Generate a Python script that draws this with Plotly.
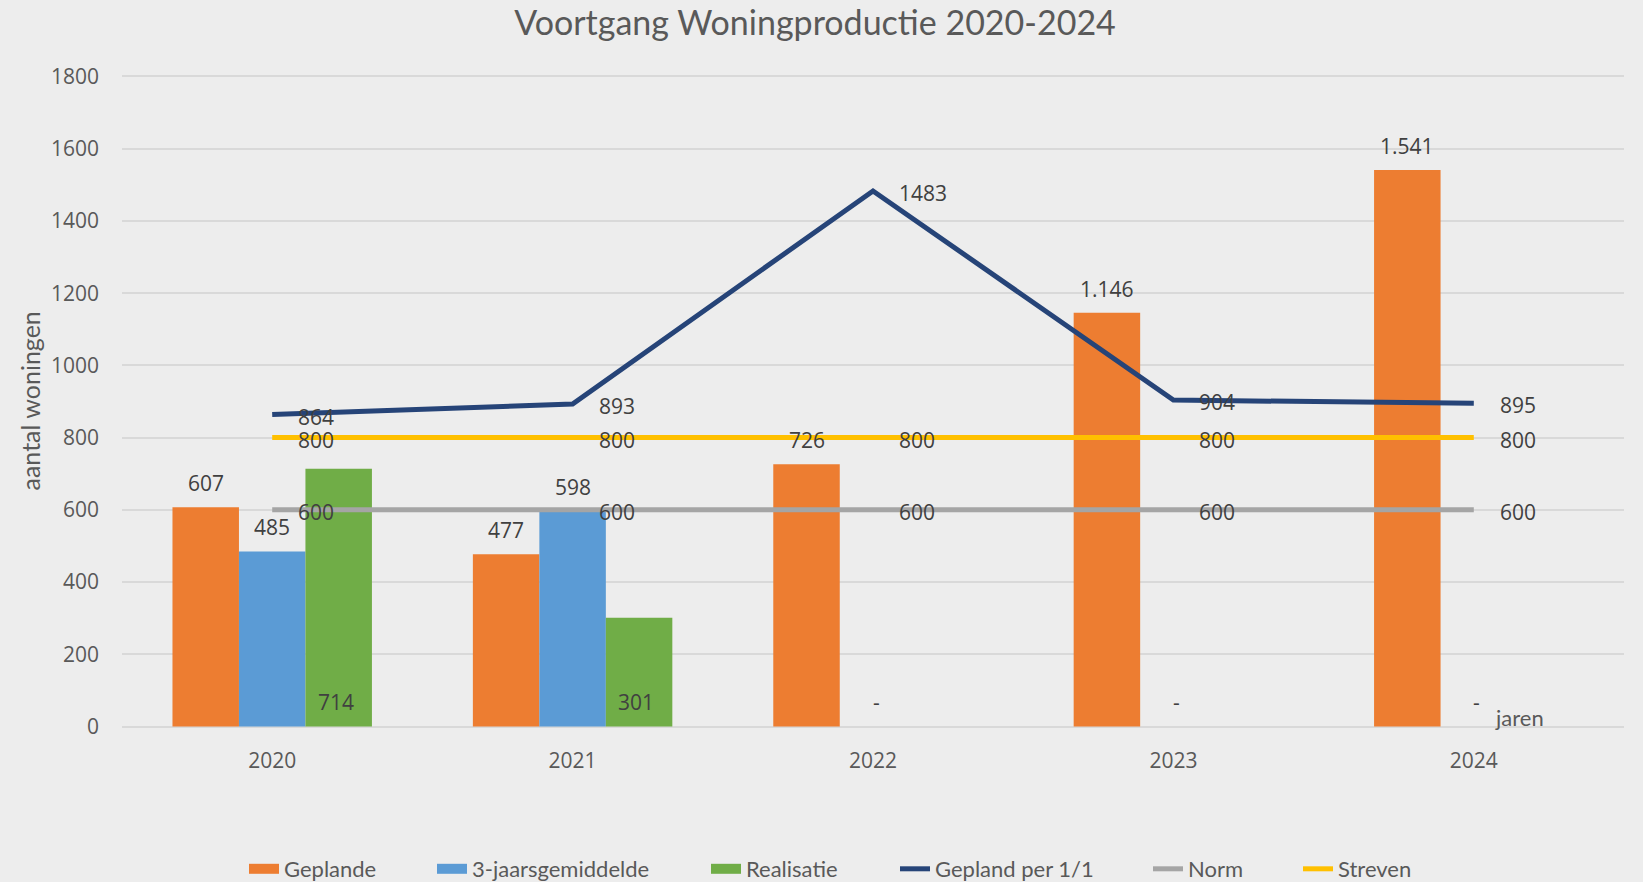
import plotly.graph_objects as go

# ---- data ----
years = ["2020", "2021", "2022", "2023", "2024"]
geplande = [607, 477, 726, 1146, 1541]
gemiddelde_3jaars = [485, 598, None, None, None]
realisatie = [714, 301, None, None, None]
gepland_per_1_1 = [864, 893, 1483, 904, 895]
norm = [600, 600, 600, 600, 600]
streven = [800, 800, 800, 800, 800]
y_ticks = [0, 200, 400, 600, 800, 1000, 1200, 1400, 1600, 1800]

# ---- styles ----
C_ORANGE = "#ED7D31"
C_BLUE = "#5B9BD5"
C_GREEN = "#70AD47"
C_NAVY = "#264478"
C_GRAY = "#A5A5A5"
C_YELLOW = "#FFC000"
BG = "#EDEDED"
TXT = "#595959"
LBL = "#404040"
NUM_FONT = "Open Sans"
TXT_FONT = "Lato"

W, H = 1643, 882
M_L, M_R, M_T, M_B = 122, 19, 75, 154
PW = W - M_L - M_R
PH = H - M_T - M_B


def fmt_nl(v):
    return f"{v:,}".replace(",", ".")


fig = go.Figure()

bar_series = [
    ("Geplande", geplande, C_ORANGE),
    ("3-jaarsgemiddelde", gemiddelde_3jaars, C_BLUE),
    ("Realisatie", realisatie, C_GREEN),
]
line_series = [
    ("Gepland per 1/1", gepland_per_1_1, C_NAVY),
    ("Norm", norm, C_GRAY),
    ("Streven", streven, C_YELLOW),
]
legend_ids = ["legend", "legend2", "legend3", "legend4", "legend5", "legend6"]
# horizontal position (px) where each legend entry's text starts
legend_text_px = [284, 472, 746, 935, 1188, 1338]

for name, vals, col in bar_series:
    fig.add_trace(go.Bar(x=years, y=vals, name=name, marker_color=col,
                         marker_line_width=0, showlegend=False, legendgroup=name))
# legend swatches for bars (wide rectangles like the original)
for k, (name, vals, col) in enumerate(bar_series):
    fig.add_trace(go.Scatter(x=[None], y=[None], mode="lines", name=name,
                             line=dict(color=col, width=14), legendgroup=name,
                             legend=legend_ids[k]))
for k, (name, vals, col) in enumerate(line_series):
    fig.add_trace(go.Scatter(x=years, y=vals, name=name, mode="lines",
                             line=dict(color=col, width=5), legendgroup=name,
                             legend=legend_ids[k + 3]))

# ---- data labels ----
ann = []
lab_font = dict(family=NUM_FONT, size=21, color=LBL)
bar_off = 66.5
for i, v in enumerate(geplande):
    ann.append(dict(x=i, y=v, xref="x", yref="y", text=fmt_nl(v), showarrow=False,
                    xshift=-bar_off, yshift=24, font=lab_font, xanchor="center", yanchor="middle"))
for i, v in enumerate(gemiddelde_3jaars):
    if v is not None:
        ann.append(dict(x=i, y=v, xref="x", yref="y", text=fmt_nl(v), showarrow=False,
                        xshift=0, yshift=24, font=lab_font, xanchor="center", yanchor="middle"))
for i, v in enumerate(realisatie):
    if v is not None:
        ann.append(dict(x=i, y=0, xref="x", yref="y", text=fmt_nl(v), showarrow=False,
                        xshift=bar_off - 3, yshift=25, font=lab_font, xanchor="center",
                        yanchor="middle"))
    else:
        ann.append(dict(x=i, y=0, xref="x", yref="y", text="-", showarrow=False, xshift=3,
                        yshift=25, font=lab_font, xanchor="center", yanchor="middle"))
for name, vals, col in line_series:
    for i, v in enumerate(vals):
        ann.append(dict(x=i, y=v, xref="x", yref="y", text=str(v), showarrow=False,
                        xshift=24, yshift=-2, font=lab_font, xanchor="left", yanchor="middle"))

# axis titles
ann.append(dict(xref="paper", yref="paper", x=(29 - M_L) / PW, y=0.5, text="aantal woningen",
                textangle=-90, showarrow=False, xanchor="center", yanchor="middle",
                font=dict(family=TXT_FONT, size=25, color=TXT)))
ann.append(dict(xref="paper", yref="paper", x=(1519 - M_L) / PW, y=(H - M_B - 717) / PH,
                text="jaren", showarrow=False, xanchor="center", yanchor="middle",
                font=dict(family=TXT_FONT, size=22, color=TXT)))

legend_y = (H - M_B - 869) / PH
legends = {}
for k, lid in enumerate(legend_ids):
    legends[lid] = dict(orientation="h", x=(legend_text_px[k] - 40 - M_L) / PW,
                        xanchor="left", y=legend_y, yanchor="middle",
                        font=dict(family=TXT_FONT, size=22, color=TXT),
                        bgcolor="rgba(0,0,0,0)", borderwidth=0)

fig.update_layout(
    width=W, height=H,
    paper_bgcolor=BG, plot_bgcolor=BG,
    margin=dict(l=M_L, r=M_R, t=M_T, b=M_B, autoexpand=False),
    barmode="group", bargap=0.336, bargroupgap=0,
    title=dict(text="Voortgang Woningproductie 2020-2024", x=815 / W, xref="container",
               xanchor="center", y=1 - 23 / H, yanchor="middle",
               font=dict(family=TXT_FONT, size=34, color=TXT)),
    annotations=ann,
    showlegend=True,
    **legends,
)
fig.update_xaxes(type="category", range=[-0.5, 4.5], showgrid=False, zeroline=False,
                 showline=False, ticks="", ticklabelstandoff=18,
                 tickfont=dict(family=NUM_FONT, size=21, color=TXT))
fig.update_yaxes(range=[-4, 1804], tickvals=y_ticks, showgrid=True, gridcolor="#D9D9D9",
                 gridwidth=1.6, zeroline=False, showline=False, ticks="",
                 ticklabelstandoff=22, tickfont=dict(family=NUM_FONT, size=21, color=TXT))

fig.write_html("out.html", config={"displayModeBar": False},
               post_script="document.body.style.margin='0';")
